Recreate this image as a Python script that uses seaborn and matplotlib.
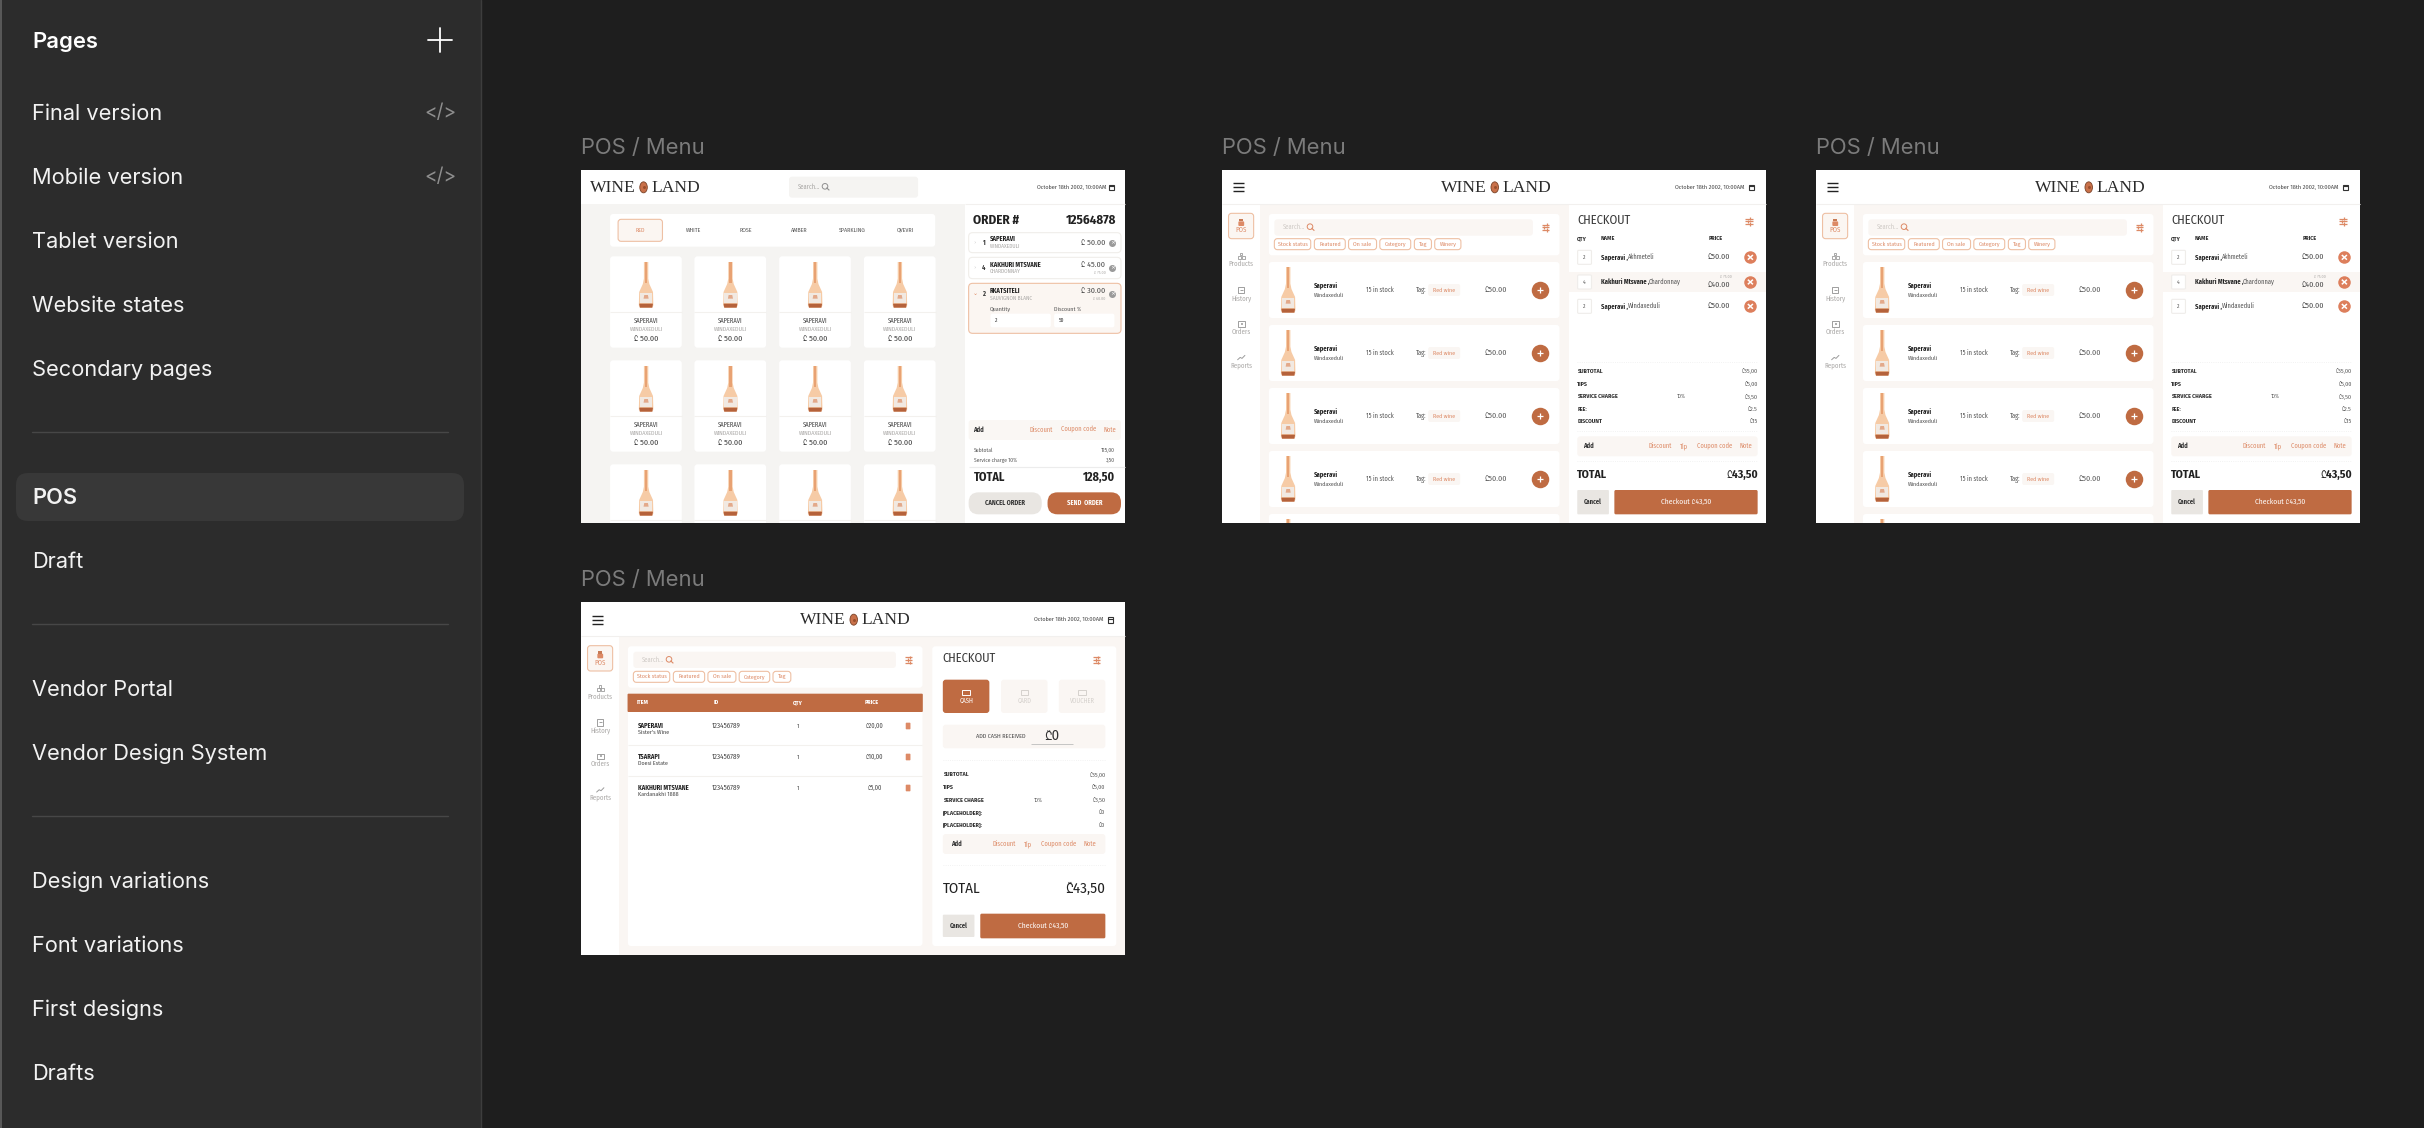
import matplotlib
matplotlib.use("Agg")
import matplotlib.pyplot as plt
from matplotlib import font_manager as fm
from matplotlib.ft2font import FT2Font
from matplotlib.patches import FancyBboxPatch, Rectangle, Polygon, Circle, Ellipse
import seaborn as sns

# sidebar
page_groups = [
    ["Final version", "Mobile version", "Tablet version", "Website states", "Secondary pages"],
    ["POS", "Draft"],
    ["Vendor Portal", "Vendor Design System"],
    ["Design variations", "Font variations", "First designs", "Drafts"],
]
code_pages = ["Final version", "Mobile version"]
frame_title = "POS / Menu"

# first screen
categories = ["RED", "WHITE", "ROSE", "AMBER", "SPARKLING", "QVEVRI"]
order_rows = [("1", "SAPERAVI", "WINDAXEDULI", "₾ 50.00", ""),
              ("4", "KAKHURI MTSVANE", "CHARDONNAY", "₾ 45.00", "₾ 75.00"),
              ("2", "RKATSITELI", "SAUVIGNON BLANC", "₾ 30.00", "₾ 60.00")]

# checkout screens
filters = ["Stock status", "Featured", "On sale", "Category", "Tag", "Winery"]
nav_items = ["POS", "Products", "History", "Orders", "Reports"]
cart_rows = [("2", "Saperavi ,", "Akhmeteli", "₾50.00", ""),
             ("4", "Kakhuri Mtsvane ,", "Chardonnay", "₾40.00", "₾ 75.00"),
             ("2", "Saperavi ,", "Windaxeduli", "₾50.00", "")]
summary_a = [("SUBTOTAL", "₾35,00"), ("TIPS", "₾5,00"), ("SERVICE CHARGE", "₾3,50"), ("FEE:", "₾2.5"), ("DISCOUNT", "₾15")]
summary_b = [("SUBTOTAL", "₾35,00"), ("TIPS", "₾5,00"), ("SERVICE CHARGE", "₾3,50"), ("[PLACEHOLDER]:", "₾0"), ("[PLACEHOLDER]:", "₾0")]
table_cols = ["ITEM", "ID", "QTY", "PRICE"]
table_rows = [("SAPERAVI", "Sister's Wine", "123456789", "1", "₾20,00"),
              ("TSARAPI", "Doesi Estate", "123456789", "1", "₾10,00"),
              ("KAKHURI MTSVANE", "Kardanakhi 1888", "123456789", "1", "₾5,00")]
pay_methods = ["CASH", "CARD", "VOUCHER"]

ACCENT = "#bf6b42"
SOFT = "#dd8a66"
BORDER = "#eec0a4"
WARM = "#faf6f3"
GREY = "#f5f4f2"
BG = "#1e1e1e"
SIDE = "#2c2c2c"
INK = "#2e2e2e"
MUTE = "#a9a7a5"


def has_lari(name):
    # first family that really carries the lari sign
    try:
        return FT2Font(fm.findfont(name, fallback_to_default=False)).get_char_index(0x20BE) > 0
    except Exception:
        return False


def installed(name):
    return name in {f.name for f in fm.fontManager.ttflist}


candidates = ["Fira Sans", "Afacad", "Inter", "Roboto", "Noto Sans", "Open Sans", "Lato"]
LARI = next((n for n in candidates if has_lari(n)), "DejaVu Sans")
MAIN = next((n for n in ["Fira Sans Condensed", "Roboto Condensed", "Roboto"] if installed(n)), "Roboto")
UI = ["Inter", LARI, "DejaVu Sans"]
NARROW = [MAIN, LARI, "DejaVu Sans"]
SERIF = ["Liberation Serif", "DejaVu Serif"]

sns.set_theme(style="white")
fig = plt.figure(figsize=(24.24, 11.28), dpi=100, facecolor=BG)
ax = fig.add_axes([0, 0, 1, 1])
ax.set_facecolor(BG)
dots = {}


def text(x, y, s, size, color=INK, ha="left", weight="normal", family=None):
    ax.text(x, y, s, fontsize=size * 0.72, color=color, ha=ha, va="center",
            fontweight=weight, family=family or NARROW, zorder=5)


def box(x0, y0, x1, y1, fc, ec="none", r=0, lw=0.8):
    if r:
        ax.add_patch(FancyBboxPatch((x0, y0), x1 - x0, y1 - y0, boxstyle=f"round,pad=0,rounding_size={r}",
                                    fc=fc, ec=ec, lw=lw))
    else:
        ax.add_patch(Rectangle((x0, y0), x1 - x0, y1 - y0, fc=fc, ec=ec, lw=lw))


class Frame:
    # coordinates below are measured at 2.75x / 3x, this maps them back
    def __init__(self, left, top, z0x, z0y):
        self.left, self.top, self.z0x, self.z0y = left, top, z0x, z0y

    def X(self, x):
        return self.left + (x - self.z0x) / 2.75

    def Y(self, y):
        return self.top + (y - self.z0y) / 3

    def box(self, x0, y0, x1, y1, fc, ec="none", r=0, lw=0.8):
        box(self.X(x0), self.Y(y0), self.X(x1), self.Y(y1), fc, ec, r, lw)

    def text(self, x, y, s, size, color=INK, ha="left", weight="normal", family=None):
        text(self.X(x), self.Y(y), s, size, color, ha, weight, family)

    def line(self, x0, y0, x1, y1, color=INK, lw=0.8, ls="-"):
        ax.plot([self.X(x0), self.X(x1)], [self.Y(y0), self.Y(y1)], color=color, lw=lw, ls=ls, zorder=4.5,
                solid_capstyle="butt")

    def dot(self, x, y, d, color):
        dots.setdefault((d, color), []).append((self.X(x), self.Y(y)))

    def bottle(self, cx, top):
        def pts(rows):
            return [(self.X(cx + dx), self.Y(top + dy)) for dx, dy in rows]
        ax.add_patch(Polygon(pts([(-6, 0), (6, 0), (6, 50), (9, 66), (19, 90), (20, 130), (17, 137), (-17, 137),
                                  (-20, 130), (-19, 90), (-9, 66), (-6, 50)]), fc="#f6cba6", ec="none"))
        ax.add_patch(Polygon(pts([(-3, 0), (3, 0), (3, 62), (-3, 62)]), fc="#e8a273", ec="none"))
        ax.add_patch(Polygon(pts([(-17, 94), (17, 94), (17, 124), (-17, 124)]), fc="#f1e9e2", ec="none"))
        ax.add_patch(Polygon(pts([(-5, 99), (5, 99), (7, 110), (-7, 110)]), fc="#e3a98a", ec="none"))
        ax.add_patch(Polygon(pts([(-19, 125), (19, 125), (17, 137), (-17, 137)]), fc="#b5623b", ec="none"))

    def logo(self, x0, y):
        self.text(x0, y + 1, "WINE", 17.5, "#2a2a2a", family=SERIF)
        self.text(x0 + 169, y + 1, "LAND", 17.5, "#2a2a2a", family=SERIF)
        ax.add_patch(Ellipse((self.X(x0 + 147), self.Y(y)), 7.5, 11, fc="#c9714a", ec="#7a4328", lw=0.6))
        self.dot(x0 + 147, y, 3, "#9a4f2d")

    def calendar(self, x, y):
        self.box(x - 7, y - 8, x + 7, y + 9, "none", "#333333", 0, 0.8)
        self.line(x - 7, y - 3, x + 7, y - 3, "#333333")

    def search_icon(self, x, y, color):
        ax.add_patch(Circle((self.X(x - 2), self.Y(y - 2)), 2.8, fc="none", ec=color, lw=0.7))
        self.line(x + 2, y + 2, x + 10, y + 10, color)

    def filter_icon(self, x, y):
        for dy in (-8, 0, 8):
            self.line(x - 10, y + dy, x + 10, y + dy, SOFT, 0.9)
            self.line(x + (4 if dy else -3), y + dy - 5, x + (4 if dy else -3), y + dy + 5, SOFT, 0.9)

    def hamburger(self, x0, x1, y):
        for dy in (-12, 0, 12):
            self.line(x0, y + dy, x1, y + dy, "#222222", 1.0)


def sidebar():
    box(0, 0, 481, 1128, SIDE)
    box(0, 0, 2, 1128, "#585858")
    ax.plot([481, 481], [0, 1128], color="#3d3d3d", lw=1)
    text(32, 41.5, "Pages", 22, "#ffffff", weight="semibold", family=UI)
    ax.plot([428, 452], [40, 40], color="white", lw=1.3)
    ax.plot([440, 440], [28, 52], color="white", lw=1.3)
    y = 113.5
    for g, group in enumerate(page_groups):
        for name in group:
            if name == "POS":
                box(16, 473, 464, 521, "#383838", r=12)
            text(32, y, name, 21.8, "#f2f2f2", weight="semibold" if name == "POS" else "normal", family=UI)
            if name in code_pages:
                text(440, y - 1, "</>", 19, "#8e8e8e", ha="center", family=UI)
            y += 64
        if g < len(page_groups) - 1:
            ax.plot([32, 448], [y - 1.5, y - 1.5], color="#474747", lw=1)
            y += 64


def first_screen():
    f = Frame(581, 170, 30, 120)
    f.box(30, 120, 1527, 1178, "white")
    f.box(30, 222, 1085, 1178, GREY)
    f.line(1085, 222, 1527, 222, "#f2f0ee")
    f.logo(55, 172)
    f.box(602, 140, 957, 203, GREY, r=3)
    f.text(626, 172, "Search...", 6.5, MUTE)
    f.search_icon(703, 171, "#8f8f8f")
    f.text(1474, 172, "October 18th 2002, 10:00AM", 6.2, "#444444", ha="right")
    f.calendar(1490, 172)

    f.box(110, 252, 1004, 350, "white", r=3)
    f.box(132, 268, 254, 334, "#fbf6f2", BORDER, r=3)
    for i, cat in enumerate(categories):
        f.text(192 + 146 * i, 300, cat, 6, SOFT if i == 0 else "#555555", ha="center")

    for y0 in (379, 691, 1003):
        for x0 in (110, 342, 575, 808):
            f.box(x0, y0, x0 + 197, y0 + 274, "white", r=3)
            f.line(x0, y0 + 168, x0 + 197, y0 + 168, "#f3f1ee", 0.8)
            f.bottle(x0 + 99, y0 + 17)
            if y0 < 1003:
                f.text(x0 + 99, y0 + 194, "SAPERAVI", 6.5, "#444444", ha="center")
                f.text(x0 + 99, y0 + 220, "WINDAXEDULI", 6, MUTE, ha="center")
                f.text(x0 + 99, y0 + 248, "₾ 50.00", 8, "#333333", ha="center")

    f.text(1108, 272, "ORDER #", 13, "#222222", weight="bold")
    f.text(1502, 272, "12564878", 13, "#222222", ha="right", weight="bold")
    f.box(1096, 308, 1515, 368, "white", "#f0eeea", r=4)
    f.box(1096, 382, 1515, 446, "white", "#f0eeea", r=4)
    f.box(1096, 460, 1515, 610, "#fbf6f2", BORDER, r=4)
    ys = [(338, 327, 350, 338, 0), (413, 404, 425, 404, 429), (491, 482, 504, 484, 508)]
    for i, (row, pos) in enumerate(zip(order_rows, ys)):
        qty, name, sub, price, old = row
        f.text(1113, pos[0], "⌄" if i == 2 else "›", 6, SOFT if i == 2 else "#cccccc", ha="center", family=["DejaVu Sans"])
        f.text(1137, pos[0], qty, 6.5, "#333333", ha="center", weight="bold")
        f.text(1155, pos[1], name, 6.5, "#222222", weight="bold")
        f.text(1155, pos[2], sub, 5.5, MUTE)
        f.text(1472, pos[3], price, 8, "#444444", ha="right")
        if old:
            f.text(1472, pos[4], old, 4, MUTE, ha="right")
        f.dot(1491, pos[0], 7, "#9a9a9a")
        f.text(1491, pos[0], "×", 6, "white", ha="center", family=["DejaVu Sans"])
    f.text(1155, 538, "Quantity", 6, "#555555")
    f.text(1331, 538, "Discount %", 6, "#555555")
    f.box(1156, 551, 1322, 592, "white", r=2)
    f.box(1331, 551, 1497, 592, "white", r=2)
    f.text(1168, 570, "2", 5.5)
    f.text(1343, 570, "50", 5.5)

    f.box(1096, 870, 1515, 930, "#faf7f4", r=3)
    f.text(1108, 899, "Add", 6.5, "#333333", weight="bold")
    for x, s in zip((1264, 1350, 1468), ("Discount", "Coupon code", "Note")):
        f.text(x, 899, s, 6.5, SOFT)
    f.text(1110, 961, "Subtotal", 5.5, "#555555")
    f.text(1499, 961, "125,00", 5.5, "#555555", ha="right")
    f.text(1110, 992, "Service charge 10%", 5.5, "#555555")
    f.text(1499, 992, "3,50", 5.5, "#555555", ha="right")
    f.line(1096, 1010, 1527, 1010, "#ececec")
    f.text(1110, 1042, "TOTAL", 12, "#222222", weight="bold")
    f.text(1499, 1042, "128,50", 12, "#222222", ha="right", weight="bold")
    f.box(1096, 1087, 1297, 1153, "#e9e6e2", r=10)
    f.text(1196, 1119, "CANCEL ORDER", 6.5, "#333333", ha="center", weight="bold")
    f.box(1313, 1087, 1515, 1153, ACCENT, r=10)
    f.text(1414, 1119, "SEND  ORDER", 6.5, "white", ha="center", weight="bold")


def nav(f, x0, y0):
    # x0 / y0 are the top left of the POS tile
    f.box(x0, y0, x0 + 69, y0 + 76, "#fbf6f2", BORDER, r=3)
    f.box(x0 + 27, y0 + 24, x0 + 43, y0 + 38, SOFT, r=1)
    f.box(x0 + 30, y0 + 17, x0 + 40, y0 + 24, "#c77a55")
    cx = x0 + 35
    for i, item in enumerate(nav_items):
        y = y0 + 51 + 101.3 * i
        f.text(cx, y, item, 6.8, SOFT if i == 0 else MUTE, ha="center")
        if item == "Products":
            f.box(cx - 3, y - 33, cx + 3, y - 26, "none", "#9b9b9b", 0, 0.6)
            f.box(cx - 10, y - 24, cx - 2, y - 15, "none", "#9b9b9b", 0, 0.6)
            f.box(cx + 2, y - 24, cx + 10, y - 15, "none", "#9b9b9b", 0, 0.6)
        elif item == "History":
            f.box(cx - 8, y - 33, cx + 8, y - 14, "none", "#8f8f8f", 0, 0.6)
            f.line(cx - 4, y - 25, cx + 4, y - 25, "#8f8f8f", 0.6)
        elif item == "Orders":
            f.box(cx - 10, y - 31, cx + 10, y - 15, "none", "#8f8f8f", 0, 0.6)
            f.box(cx - 2, y - 27, cx + 5, y - 20, "#b0b0b0")
        elif item == "Reports":
            ax.plot([f.X(cx - 10), f.X(cx - 3), f.X(cx + 2), f.X(cx + 10)],
                    [f.Y(y - 17), f.Y(y - 24), f.Y(y - 21), f.Y(y - 30)], color="#9b9b9b", lw=0.7, zorder=4.5)


def chips(f, spans, y0, y1):
    for (x0, x1), s in zip(spans, filters):
        f.box(x0, y0, x1, y1, "white", BORDER, r=3)
        f.text((x0 + x1) / 2, (y0 + y1) / 2, s, 6, SOFT, ha="center")


def add_bar(f, x0, x1, y0, y1, xs, labels):
    f.box(x0, y0, x1, y1, WARM, r=3)
    f.text(xs[0], (y0 + y1) / 2, "Add", 6.5, "#333333", weight="bold")
    for x, s in zip(xs[1:], labels):
        f.text(x, (y0 + y1) / 2, s, 6.5, SOFT)


def list_screen(left):
    f = Frame(left, 170, 33, 120)
    f.box(33, 120, 1530, 1178, "white")
    f.box(138, 222, 987, 1178, WARM)
    f.line(33, 222, 1530, 222, "#f2f0ee")
    f.hamburger(63, 93, 171)
    f.logo(636, 172)
    f.text(1470, 172, "October 18th 2002, 10:00AM", 6.2, "#444444", ha="right")
    f.calendar(1489, 172)
    nav(f, 51, 250)

    f.box(162, 252, 961, 376, "white", r=3)
    f.box(177, 268, 888, 317, WARM, r=3)
    f.text(200, 292, "Search...", 6.5, "#cfcac6")
    f.search_icon(277, 292, SOFT)
    f.filter_icon(922, 292)
    chips(f, [(177, 277), (287, 372), (381, 458), (467, 552), (562, 609), (618, 690)], 326, 359)

    for y0 in (396, 585, 774, 963, 1152):
        f.box(162, y0, 961, y0 + 168, "white", r=3)
        f.bottle(215, y0 + 15)
        if y0 > 1000:
            continue
        f.text(286, y0 + 69, "Saperavi", 6.5, "#222222", weight="bold")
        f.text(286, y0 + 100, "Windaxeduli", 6, "#555555")
        f.text(430, y0 + 84, "15 in stock", 6.5, "#555555")
        f.text(567, y0 + 84, "Tag:", 6.5, "#555555")
        f.box(600, y0 + 66, 688, y0 + 102, WARM, r=2)
        f.text(644, y0 + 84, "Red wine", 6, SOFT, ha="center")
        f.text(755, y0 + 84, "₾50.00", 8, "#555555")
        f.dot(907, y0 + 84, 17.5, ACCENT)
        f.line(898, y0 + 84, 916, y0 + 84, "white", 0.9)
        f.line(907, y0 + 76, 907, y0 + 92, "white", 0.9)

    f.text(1010, 270, "CHECKOUT", 12.5, "#3a3a3a")
    f.filter_icon(1482, 274)
    for x, s in zip((1010, 1075, 1370), ("QTY", "NAME", "PRICE")):
        f.text(x, 326, s, 6, "#333333", weight="bold")
    f.box(987, 427, 1530, 486, WARM)
    for (qty, name, sub, price, old), y, xs in zip(cart_rows, (382, 456, 529), (1150, 1207, 1150)):
        f.box(1011, y - 21, 1049, y + 21, "white", "#efedea", r=1)
        f.text(1029, y, qty, 5.5, "#555555", ha="center")
        f.text(1075, y, name, 6.5, "#222222", weight="bold")
        f.text(xs, y, sub, 6.5, "#555555")
        f.text(1369, y + 10 if old else y, price, 8, "#444444")
        if old:
            f.text(1435, y - 15, old, 4, MUTE, ha="right")
        f.dot(1486, y, 12.5, "#dd7f5c")
        f.line(1479, y - 7, 1493, y + 7, "white", 1.1)
        f.line(1479, y + 7, 1493, y - 7, "white", 1.1)

    f.line(1010, 697, 1506, 697, "#eeeeee", 0.6, ":")
    for (label, value), y in zip(summary_a, (724, 762, 800, 838, 875)):
        f.text(1010, y, label, 6, "#333333", weight="bold")
        f.text(1506, y, value, 6, "#555555", ha="right")
    f.text(1297, 800, "10%", 5.5, "#555555", ha="center")
    f.line(1010, 904, 1506, 904, "#eeeeee", 0.6, ":")
    add_bar(f, 1010, 1506, 919, 979, (1025, 1205, 1291, 1338, 1456), ("Discount", "Tip", "Coupon code", "Note"))
    f.line(1010, 994, 1506, 994, "#eeeeee", 0.6, ":")
    f.text(1010, 1035, "TOTAL", 11.5, "#222222", weight="bold")
    f.text(1506, 1035, "₾43,50", 11.5, "#222222", ha="right", weight="bold")
    f.box(1010, 1080, 1097, 1153, "#e9e6e2", r=1)
    f.text(1053, 1117, "Cancel", 6.5, "#333333", ha="center", weight="bold")
    f.box(1112, 1080, 1506, 1153, ACCENT, r=1.5)
    f.text(1309, 1117, "Checkout ₾43,50", 7.5, "white", ha="center")


def table_screen():
    f = Frame(581, 602, 30, 110)
    f.box(30, 110, 1527, 1170, "white")
    f.box(135, 213, 1527, 1170, WARM)
    f.line(30, 213, 1527, 213, "#f2f0ee")
    f.hamburger(60, 90, 163)
    f.logo(633, 163)
    f.text(1467, 163, "October 18th 2002, 10:00AM", 6.2, "#444444", ha="right")
    f.calendar(1486, 163)
    nav(f, 48, 241)

    f.box(159, 243, 969, 367, "white", r=3)
    f.box(174, 259, 896, 308, WARM, r=3)
    f.text(197, 284, "Search...", 6.5, "#cfcac6")
    f.search_icon(274, 284, SOFT)
    f.filter_icon(931, 284)
    chips(f, [(174, 274), (284, 370), (379, 456), (465, 549), (558, 607)], 318, 351)

    f.box(159, 385, 969, 1142, "white", r=3)
    f.box(158, 385, 970, 440, ACCENT, r=1)
    for x, s in zip((184, 394, 612, 811), table_cols):
        f.text(x, 412, s, 6, "white", weight="bold")
    for i, (name, sub, code, qty, price) in enumerate(table_rows):
        y = 482 + 93 * i
        f.text(186, y, name, 6.5, "#222222", weight="bold")
        f.text(186, y + 19, sub, 6, "#444444")
        f.text(390, y, code, 7, "#444444")
        f.text(627, y, qty, 6, "#444444", ha="center")
        f.text(837, y, price, 6.5, "#444444", ha="center")
        f.box(923, y - 10, 936, y + 10, SOFT, r=0.8)
        if i < 2:
            f.line(159, y + 56, 969, y + 56, "#f3f1ee")

    f.box(996, 243, 1502, 1142, "white", r=3)
    f.text(1025, 280, "CHECKOUT", 12.5, "#3a3a3a")
    f.filter_icon(1448, 284)
    for i, (x0, method) in enumerate(zip((1025, 1185, 1344), pay_methods)):
        f.box(x0, 343, x0 + 128, 443, ACCENT if i == 0 else WARM, r=3)
        color = "white" if i == 0 else "#d5d1cd"
        f.box(x0 + 54, 373, x0 + 74, 389, "none", color, 0, 0.7)
        f.text(x0 + 64, 407, method, 6.5, color, ha="center")
    f.box(1025, 478, 1472, 549, WARM, r=3)
    f.text(1185, 513, "ADD CASH RECEIVED", 6.2, "#444444", ha="center")
    f.text(1325, 513, "₾0", 14.5, "#333333", ha="center")
    f.line(1268, 535, 1384, 535, "#bdbdbd", 0.6)
    f.line(1025, 583, 1472, 583, "#eeeeee", 0.6, ":")
    for (label, value), y in zip(summary_b, (628, 666, 704, 741, 779)):
        f.text(1025, y, label, 6, "#333333", weight="bold")
        f.text(1472, y, value, 6, "#555555", ha="right")
    f.text(1287, 704, "10%", 5.5, "#555555", ha="center")
    add_bar(f, 1025, 1472, 806, 866, (1048, 1162, 1248, 1295, 1413), ("Discount", "Tip", "Coupon code", "Note"))
    f.line(1025, 898, 1472, 898, "#eeeeee", 0.6, ":")
    f.text(1025, 972, "TOTAL", 15, "#222222")
    f.text(1471, 972, "₾43,50", 15, "#222222", ha="right")
    f.box(1025, 1048, 1112, 1115, "#e9e6e2", r=1)
    f.text(1068, 1082, "Cancel", 6.5, "#333333", ha="center", weight="bold")
    f.box(1128, 1045, 1472, 1119, ACCENT, r=1.5)
    f.text(1300, 1082, "Checkout ₾43,50", 7.5, "white", ha="center")


sidebar()
first_screen()
list_screen(1222)
list_screen(1816)
box(560, 523, 2424, 600, BG)  # cut off what runs past the frames
table_screen()
for x, y in ((581, 148), (1222, 148), (1816, 148), (581, 580)):
    text(x, y, frame_title, 22, "#7b7b7b", family=UI)

for (d, color), pts in dots.items():
    sns.scatterplot(x=[p[0] for p in pts], y=[p[1] for p in pts], s=(d * 0.72) ** 2, color=color,
                    linewidth=0, legend=False, ax=ax, zorder=4)

ax.set_xlim(0, 2424)
ax.set_ylim(1128, 0)
ax.axis("off")
fig.savefig("out.png", dpi=100, facecolor=BG)
